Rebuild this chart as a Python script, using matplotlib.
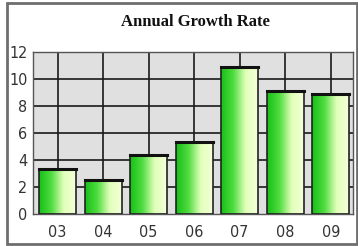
import numpy as np
import matplotlib.pyplot as plt
from matplotlib.colors import LinearSegmentedColormap
from matplotlib.patches import Rectangle

years = ['03', '04', '05', '06', '07', '08', '09']
rates = [3.3, 2.5, 4.35, 5.3, 10.9, 9.1, 8.9]
yticks = [0, 2, 4, 6, 8, 10, 12]

W, H = 358, 246
fig = plt.figure(figsize=(W / 100, H / 100), dpi=100)
fig.patch.set_facecolor('white')

# grey frame around whole picture
fig.add_artist(Rectangle((6.5 / W, 2.5 / H), (357 - 6.5) / W, (243.5 - 2.5) / H,
                         transform=fig.transFigure, fill=False,
                         edgecolor='#6e6e6e', linewidth=2))

ax = fig.add_axes([33 / W, 1 - 214 / H, (353 - 33) / W, (214 - 52) / H])
ax.set_facecolor('#e0e0e0')
x = np.arange(len(years))

for v in range(2, 12, 2):
    ax.axhline(v, color='#1a1a1a', linewidth=1.2, zorder=1)
for xi in x:
    ax.axvline(xi, color='#1a1a1a', linewidth=1.2, zorder=1)

grad = LinearSegmentedColormap.from_list('g', ['#18c018', '#50dc40', '#e0ffb8', '#f4ffd8'])
gimg = np.linspace(0, 1, 64).reshape(1, -1)
bw = 0.81
bars = ax.bar(x, rates, width=bw, color='none', edgecolor='#222222', linewidth=1.2, zorder=3)
for b in bars:
    x0 = b.get_x()
    im = ax.imshow(gimg, cmap=grad, aspect='auto', extent=[x0, x0 + bw, 0, b.get_height()],
                   zorder=2)
    im.set_clip_path(b)
    ax.plot([x0, x0 + bw], [b.get_height()] * 2, color='#111111', linewidth=2.2, zorder=4)
ax.set_xlim(-0.54, 6.49)
ax.set_ylim(0, 12)

ax.set_xticks(x)
ax.set_xticklabels(years)
ax.set_yticks(yticks)
for lab in ax.get_xticklabels() + ax.get_yticklabels():
    lab.set_family('DejaVu Sans')
    lab.set_fontstretch('condensed')
    lab.set_fontsize(11.5)
    lab.set_color('#333333')
ax.tick_params(length=0, pad=4)
ax.tick_params(axis='x', pad=8)
for s in ax.spines.values():
    s.set_color('#555555')
    s.set_linewidth(1)

fig.text(195 / W, 1 - 22 / H, 'Annual Growth Rate', ha='center', va='center',
         family='Liberation Serif', fontweight='bold', fontsize=12, color='#111111')

fig.savefig('out.png', dpi=100)
